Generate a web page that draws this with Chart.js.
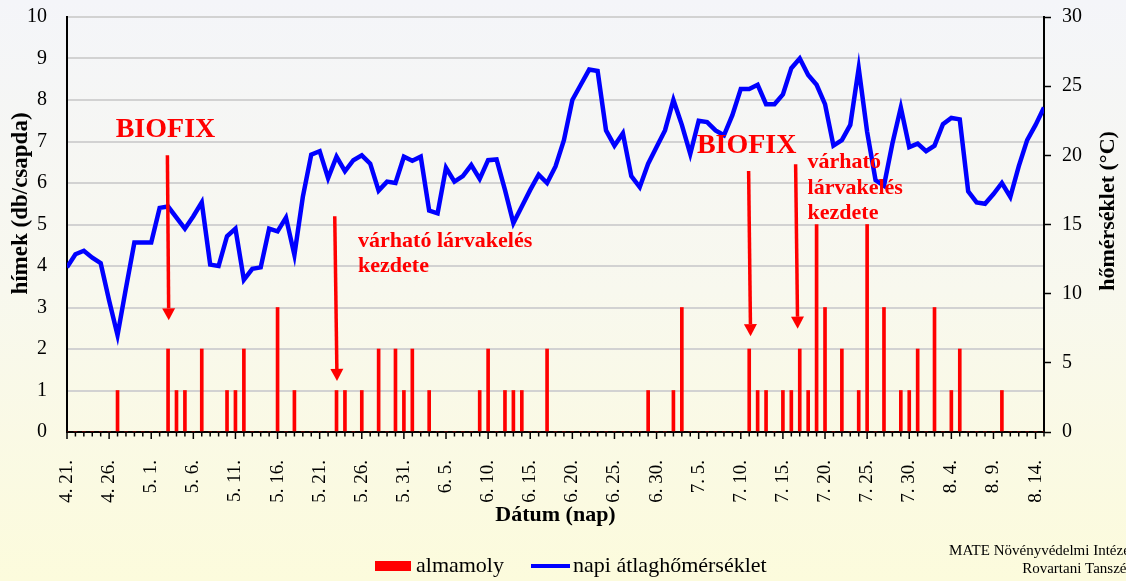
<!DOCTYPE html>
<html><head><meta charset="utf-8">
<script src="https://cdn.jsdelivr.net/npm/chart.js@4.4.1/dist/chart.umd.min.js"></script>
<style>
html,body{margin:0;padding:0;}
body{width:1126px;height:581px;overflow:hidden;background:linear-gradient(to bottom,#f4f5f9 0%,#f8f8ee 50%,#fcfbdc 100%);}
canvas{display:block;}
</style></head><body>
<canvas id="c" width="1126" height="581"></canvas>
<script>
// ---- data ----
const tickDays   = [0,5,10,15,20,25,30,35,40,45,50,55,60,65,70,75,80,85,90,95,100,105,110,115];
const tickLabels = ["4. 21.","4. 26.","5. 1.","5. 6.","5. 11.","5. 16.","5. 21.","5. 26.","5. 31.","6. 5.","6. 10.","6. 15.","6. 20.","6. 25.","6. 30.","7. 5.","7. 10.","7. 15.","7. 20.","7. 25.","7. 30.","8. 4.","8. 9.","8. 14."];

// almamoly (hímek db/csapda), one value per day from 4.21
const almamoly = [
 0,0,0,0,0,0,1,0,0,0,
 0,0,2,1,1,0,2,0,0,1,
 1,2,0,0,0,3,0,1,0,0,
 0,0,1,1,0,1,0,2,0,2,
 1,2,0,1,0,0,0,0,0,1,
 2,0,1,1,1,0,0,2,0,0,
 0,0,0,0,0,0,0,0,0,1,
 0,0,1,3,0,0,0,0,0,0,
 0,2,1,1,0,1,1,2,1,5,
 3,0,2,0,1,5,0,3,0,1,
 1,2,0,3,0,1,2,0,0,0,
 0,1,0,0,0,0,0
];
// napi átlaghőmérséklet (°C)
const homerseklet = [
 11.9,12.85,13.1,12.6,12.2,9.5,7.0,10.4,13.7,13.7,
 13.7,16.2,16.3,15.5,14.7,15.6,16.6,12.1,12.0,14.15,
 14.7,11.0,11.8,11.9,14.7,14.5,15.5,12.8,17.0,20.05,
 20.3,18.35,19.9,18.85,19.65,20.0,19.4,17.45,18.1,18.0,
 19.9,19.6,19.9,16.0,15.8,19.1,18.1,18.5,19.3,18.3,
 19.65,19.7,17.5,15.1,16.3,17.5,18.6,18.0,19.2,21.1,
 24.0,25.1,26.2,26.1,21.8,20.7,21.6,18.5,17.7,19.4,
 20.6,21.8,24.0,22.2,20.1,22.5,22.4,21.8,21.45,22.9,
 24.8,24.8,25.1,23.7,23.7,24.4,26.3,27.0,25.8,25.1,
 23.7,20.7,21.1,22.2,26.3,21.7,18.2,17.8,20.85,23.45,
 20.6,20.85,20.3,20.7,22.25,22.7,22.6,17.4,16.6,16.5,
 17.2,18.0,17.0,19.2,21.1,22.2,23.45
];

// annotations (in data units: x = day index, y = left axis value)
const biofixMarks = [ {x:5.78, y:7.11}, {x:74.79, y:6.72} ];
const arrowMarks  = [
  {x1:11.92, y1:6.67, x2:12.08, y2:2.69},
  {x1:31.79, y1:5.20, x2:32.06, y2:1.23},
  {x1:80.93, y1:6.29, x2:81.16, y2:2.31},
  {x1:86.51, y1:6.45, x2:86.75, y2:2.49}
];
const noteMarks = [
  {lines:["várható lárvakelés","kezdete"], x:34.56, y:4.46},
  {lines:["várható","lárvakelés","kezdete"], x:87.93, y:6.35}
];

const SERIF = "'Liberation Serif','Times New Roman',Times,serif";
Chart.defaults.font.family = SERIF;
Chart.defaults.color = '#000';

function drawArrow(ctx, x1, y1, x2, y2){
  const ang = Math.atan2(y2-y1, x2-x1);
  const headL = 12, headW = 6.5;
  const bx = x2 - headL*Math.cos(ang), by = y2 - headL*Math.sin(ang);
  ctx.strokeStyle = '#ff0000'; ctx.lineWidth = 3.5; ctx.lineCap = 'butt';
  ctx.beginPath(); ctx.moveTo(x1,y1); ctx.lineTo(bx,by); ctx.stroke();
  ctx.fillStyle = '#ff0000';
  ctx.beginPath(); ctx.moveTo(x2,y2);
  ctx.lineTo(bx + headW*Math.sin(ang), by - headW*Math.cos(ang));
  ctx.lineTo(bx - headW*Math.sin(ang), by + headW*Math.cos(ang));
  ctx.closePath(); ctx.fill();
}

const overlay = {
  id: 'overlay',
  afterDatasetsDraw(chart){
    const {ctx, scales:{x, y}} = chart;
    ctx.save();
    ctx.fillStyle = '#ff0000';
    ctx.textAlign = 'left'; ctx.textBaseline = 'alphabetic';
    ctx.font = 'bold 28px ' + SERIF;
    biofixMarks.forEach(b => ctx.fillText('BIOFIX', x.getPixelForValue(b.x), y.getPixelForValue(b.y)));
    arrowMarks.forEach(a => drawArrow(ctx, x.getPixelForValue(a.x1), y.getPixelForValue(a.y1), x.getPixelForValue(a.x2), y.getPixelForValue(a.y2)));
    ctx.fillStyle = '#ff0000';
    ctx.font = 'bold 22px ' + SERIF;
    noteMarks.forEach(n => {
      const px = x.getPixelForValue(n.x), py = y.getPixelForValue(n.y);
      n.lines.forEach((t,k) => ctx.fillText(t, px, py + k*25.5));
    });
    ctx.restore();
  },
  afterDraw(chart){
    const {ctx, chartArea:a, scales:{x}} = chart;
    ctx.save();
    // day tick marks on the date axis
    ctx.strokeStyle = '#000'; ctx.lineWidth = 1.5;
    for (let i = 0; i < homerseklet.length; i++){
      const px = x.getPixelForValue(i);
      const len = tickDays.includes(i) ? 7 : 4.5;
      ctx.beginPath(); ctx.moveTo(px, a.bottom); ctx.lineTo(px, a.bottom + len); ctx.stroke();
    }
    ctx.fillStyle = '#000';
    // axis titles
    ctx.font = 'bold 22px ' + SERIF;
    ctx.textAlign = 'center'; ctx.textBaseline = 'alphabetic';
    ctx.fillText('Dátum (nap)', (a.left + a.right)/2, 520.7);
    ctx.save(); ctx.translate(27, 203.5); ctx.rotate(-Math.PI/2);
    ctx.font = 'bold 23px ' + SERIF;
    ctx.fillText('hímek (db/csapda)', 0, 0); ctx.restore();
    ctx.save(); ctx.translate(1113.5, 211); ctx.rotate(-Math.PI/2);
    ctx.fillText('hőmérséklet (°C)', 0, 0); ctx.restore();
    // legend
    ctx.font = '22px ' + SERIF; ctx.textAlign = 'left';
    ctx.fillStyle = '#ff0000'; ctx.fillRect(375, 561, 36, 10);
    ctx.fillStyle = '#000'; ctx.fillText('almamoly', 416, 571.7);
    ctx.strokeStyle = '#0000ff'; ctx.lineWidth = 4;
    ctx.beginPath(); ctx.moveTo(531, 566); ctx.lineTo(570, 566); ctx.stroke();
    ctx.fillText('napi átlaghőmérséklet', 573, 571.7);
    // credit
    ctx.font = '15px ' + SERIF; ctx.textAlign = 'right';
    ctx.fillText('MATE Növényvédelmi Intézet', 1134, 555);
    ctx.fillText('Rovartani Tanszék', 1134, 572.7);
    ctx.restore();
  }
};

const noPad = s => { s.paddingTop = 0; s.paddingBottom = 0; };

new Chart(document.getElementById('c'), {
  type: 'bar',
  data: {
    datasets: [
      {
        type: 'line', label: 'napi átlaghőmérséklet',
        data: homerseklet.map((v,i) => ({x:i, y:v})),
        borderColor: '#0000ff', borderWidth: 4.5, pointRadius: 0, tension: 0,
        yAxisID: 'y1', xAxisID: 'x', order: 0
      },
      {
        type: 'bar', label: 'almamoly',
        data: almamoly.map((v,i) => ({x:i, y:v})),
        backgroundColor: '#ff0000', borderWidth: 0, barThickness: 3,
        yAxisID: 'y', xAxisID: 'x', order: 1, grouped: false
      }
    ]
  },
  options: {
    responsive: false, animation: false,
    layout: { padding: { top: 17, left: 0, right: 0, bottom: 0 } },
    plugins: { legend: { display: false }, tooltip: { enabled: false } },
    scales: {
      x: {
        type: 'linear', position: 'bottom', min: 0, max: 116, offset: false,
        grid: { display: false },
        border: { display: true, color: '#000', width: 2 },
        ticks: {
          stepSize: 5, includeBounds: false, autoSkip: false,
          minRotation: 90, maxRotation: 90, padding: 20,
          font: { size: 19, family: SERIF }, color: '#000',
          callback: v => { const k = tickDays.indexOf(v); return k >= 0 ? tickLabels[k] : ''; }
        },
        afterFit: s => { s.height = 149; s.paddingLeft = 0; s.paddingRight = 0; }
      },
      y: {
        type: 'linear', position: 'left', min: 0, max: 10,
        grid: { color: '#d2d2d2', lineWidth: 2, drawTicks: false },
        border: { display: true, color: '#000', width: 2 },
        ticks: { stepSize: 1, padding: 20, font: { size: 20, family: SERIF }, color: '#000' },
        afterFit: s => { s.width = 67; noPad(s); }
      },
      y1: {
        type: 'linear', position: 'right', min: 0, max: 30,
        grid: { drawOnChartArea: false, drawTicks: true, tickLength: 7, tickColor: '#000', tickWidth: 1.5 },
        border: { display: true, color: '#000', width: 2 },
        ticks: { stepSize: 5, padding: 11, font: { size: 20, family: SERIF }, color: '#000' },
        afterFit: s => { s.width = 82; noPad(s); }
      }
    }
  },
  plugins: [overlay]
});
</script>
</body></html>
